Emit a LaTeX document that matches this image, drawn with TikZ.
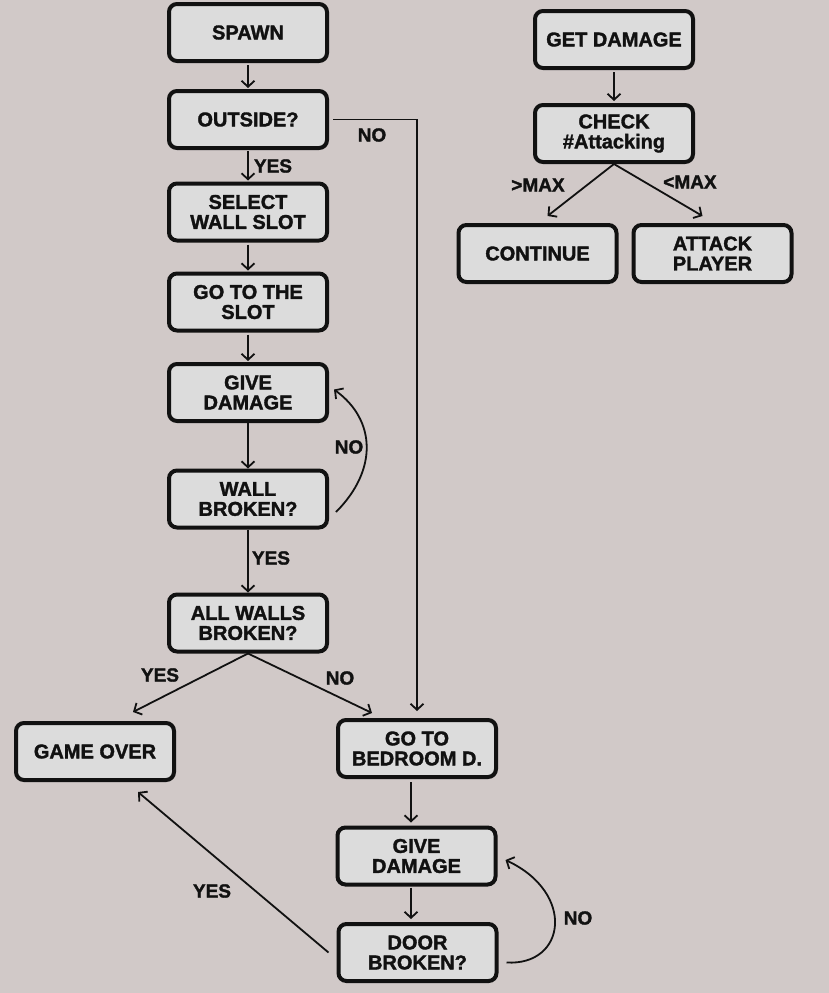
\documentclass[tikz,border=0pt]{standalone}
\usepackage{fontspec}
\setmainfont{Liberation Sans}[BoldFeatures={FakeBold=1.6}]
\usetikzlibrary{arrows.meta}
\definecolor{bgc}{HTML}{D1C9C8}
\definecolor{boxc}{HTML}{DCDCDC}
\definecolor{inkc}{HTML}{111111}
\tikzset{
  stepbox/.style={draw=inkc, fill=boxc, line width=4pt, rounded corners=8pt,
    minimum width=158pt, minimum height=57pt, align=center, inner sep=0pt,
    font=\fontsize{20}{20}\selectfont\bfseries, text=inkc},
  arr/.style={draw=inkc, line width=1.8pt, -{Straight Barb[length=6pt,width=13pt]}},
  lbl/.style={font=\fontsize{19}{19}\selectfont\bfseries, text=inkc, inner sep=0pt}
}
\begin{document}
\begin{tikzpicture}[x=1pt,y=-1pt]
\fill[bgc] (0,0) rectangle (829,993);
\useasboundingbox (0,0) rectangle (829,993);
% left column
\node[stepbox] (spawn) at (248,32.5) {SPAWN};
\node[stepbox] (out) at (248,119.5) {OUTSIDE?};
\node[stepbox] (sel) at (248,212) {SELECT\\WALL SLOT};
\node[stepbox] (goslot) at (248,302) {GO TO THE\\SLOT};
\node[stepbox] (give) at (248,392.5) {GIVE\\DAMAGE};
\node[stepbox] (wall) at (248,499) {WALL\\BROKEN?};
\node[stepbox] (all) at (248,623) {ALL WALLS\\BROKEN?};
\node[stepbox] (gover) at (95,751.5) {GAME OVER};
\node[stepbox] (bed) at (417,748.5) {GO TO\\BEDROOM D.};
\node[stepbox] (give2) at (416.5,856) {GIVE\\DAMAGE};
\node[stepbox] (door) at (417.5,952.5) {DOOR\\BROKEN?};
% right group
\node[stepbox] (getd) at (614,39.5) {GET DAMAGE};
\node[stepbox] (check) at (614,133.5) {CHECK\\\#Attacking};
\node[stepbox] (cont) at (537.5,253.5) {CONTINUE};
\node[stepbox] (att) at (712.5,253.5) {ATTACK\\PLAYER};
% connectors
\draw[arr, shorten <=2pt, shorten >=1pt] (spawn.south) -- (out.north);
\draw[arr, shorten <=1pt, shorten >=1pt] (out.south) -- (sel.north);
\draw[arr, shorten <=2pt, shorten >=1pt] (sel.south) -- (goslot.north);
\draw[arr, shorten <=2pt, shorten >=1pt] (goslot.south) -- (give.north);
\draw[arr, shorten >=0pt] (give.south) -- (wall.north);
\draw[arr] ([shift={(7,13)}]wall.east) .. controls (378,470) and (376,420) .. ([shift={(5,-3)}]give.east);
\draw[arr] (wall.south) -- (all.north);
\draw[arr] (all.south) -- ([shift={(38,-9)}]gover.north);
\draw[arr] (all.south) -- ([shift={(-45,-5)}]bed.north);
\draw[arr, shorten >=7pt] ([xshift=4pt]out.east) -| (bed.north);
\draw[arr, shorten <=3pt, shorten >=3pt] ([xshift=-6pt]bed.south) -- ([xshift=-5.5pt]give2.north);
\draw[arr, shorten <=1pt, shorten >=3pt] ([xshift=-5.5pt]give2.south) -- ([xshift=-6.5pt]door.north);
\draw[arr] ([shift={(8,10)}]door.east) .. controls (566,966) and (576,893) .. ([shift={(8,4)}]give2.east);
\draw[arr] ([xshift=-8pt]door.west) -- ([shift={(43,10)}]gover.south);
\draw[arr, shorten <=2pt, shorten >=2pt] (getd.south) -- (check.north);
\draw[arr] (check.south) -- ([shift={(10,-7)}]cont.north);
\draw[arr] (check.south) -- ([shift={(-10,-7)}]att.north);
% labels
\node[lbl] (l1) at (372,135) {NO};
\node[lbl] (l2) at (273,166) {YES};
\node[lbl] (l3) at (349,447) {NO};
\node[lbl] (l4) at (271,558) {YES};
\node[lbl] (l5) at (160,675) {YES};
\node[lbl] (l6) at (340,678) {NO};
\node[lbl] (l7) at (212,891) {YES};
\node[lbl] (l8) at (578,918) {NO};
\node[lbl] (l9) at (538,185) {>MAX};
\node[lbl] (l10) at (690,182) {<MAX};
\end{tikzpicture}
\end{document}
